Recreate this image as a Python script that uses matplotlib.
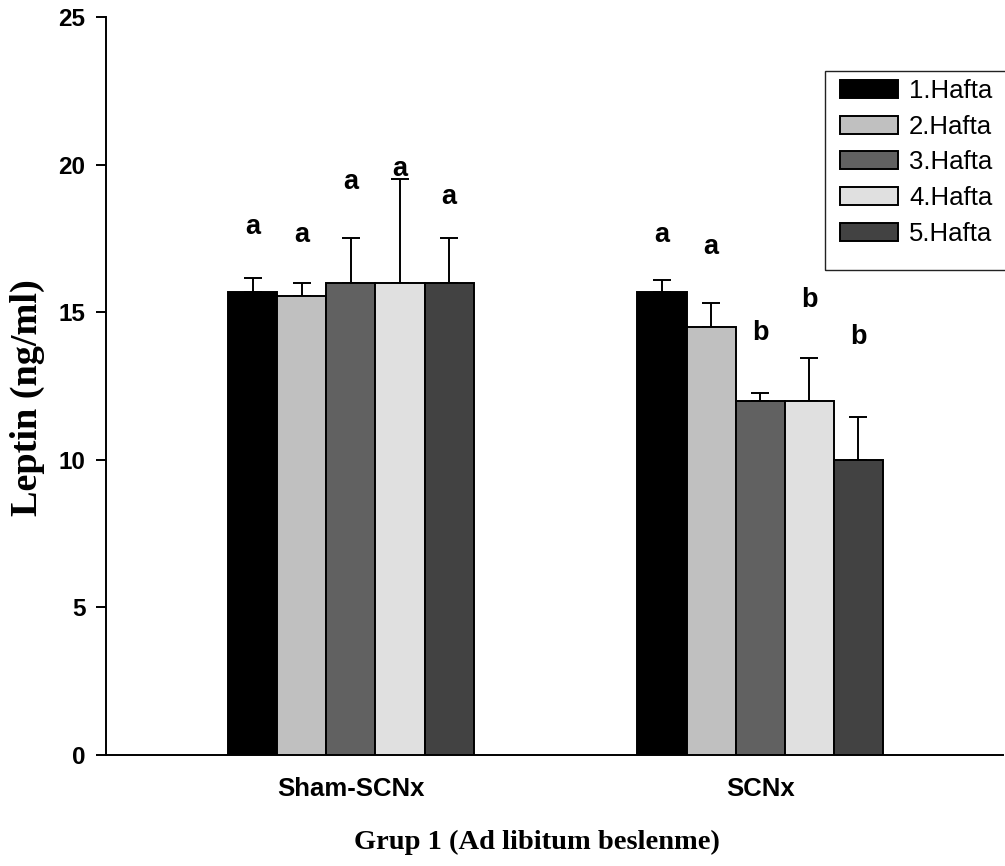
import matplotlib
matplotlib.use("Agg")
import matplotlib.pyplot as plt
from matplotlib.patches import Rectangle

plt.rcParams['font.family'] = ['Liberation Sans', 'DejaVu Sans']
SANS = ['Liberation Sans', 'DejaVu Sans']
SERIF = ['Liberation Serif', 'DejaVu Serif']

# Data
groups = ["Sham-SCNx", "SCNx"]
weeks = ["1.Hafta", "2.Hafta", "3.Hafta", "4.Hafta", "5.Hafta"]
sham_mean = [15.7, 15.55, 16.0, 16.0, 16.0]
sham_err = [0.45, 0.45, 1.5, 3.5, 1.5]
scnx_mean = [15.7, 14.5, 12.0, 12.0, 10.0]
scnx_err = [0.4, 0.8, 0.25, 1.45, 1.45]
sham_letters = ["a", "a", "a", "a", "a"]
scnx_letters = ["a", "a", "b", "b", "b"]
y_ticks = [0, 5, 10, 15, 20, 25]

# Styling / layout
colors = ["#000000", "#c0c0c0", "#616161", "#e0e0e0", "#424242"]
sham_letter_y = [17.9, 17.6, 19.4, 19.85, 18.9]
scnx_letter_y = [17.6, 17.2, 14.3, 15.4, 14.15]
bar_w = 0.12

fig = plt.figure(figsize=(10.05, 8.66), dpi=100)
ax = fig.add_axes([106 / 1005, 1 - 755 / 866, 1 - 106 / 1005 - 0.002, (755 - 17) / 866])

means = [sham_mean, scnx_mean]
errs = [sham_err, scnx_err]
letters = [sham_letters, scnx_letters]
letter_y = [sham_letter_y, scnx_letter_y]

handles = []
for i, wk in enumerate(weeks):
    xs = [g + (i - 2) * bar_w for g in range(len(groups))]
    hs = [means[g][i] for g in range(len(groups))]
    es = [errs[g][i] for g in range(len(groups))]
    b = ax.bar(xs, hs, width=bar_w, color=colors[i], edgecolor="black",
               linewidth=1.4, label=wk, zorder=3)
    handles.append(b)
    ax.errorbar(xs, hs, yerr=[[0] * len(es), es], fmt="none", ecolor="black",
                elinewidth=1.4, capsize=6.5, capthick=1.4, zorder=2)
    for g in range(len(groups)):
        ax.text(xs[g], letter_y[g][i], letters[g][i], ha="center", va="center",
                fontsize=19.5, fontweight="bold", family=SANS)

ax.set_xlim(-0.598, 1.593)
ax.set_ylim(0, 25)
ax.set_yticks(y_ticks)
ax.set_xticks(range(len(groups)))
ax.set_xticklabels(groups, fontsize=18.5, fontweight="bold", family=SANS)
ax.tick_params(axis="x", length=0, pad=15.5)
ax.tick_params(axis="y", length=7.2, width=1.4, pad=7.5)
for lbl in ax.get_yticklabels():
    lbl.set_fontweight("bold")
    lbl.set_fontsize(17.5)
for s in ["top", "right"]:
    ax.spines[s].set_visible(False)
for s in ["left", "bottom"]:
    ax.spines[s].set_linewidth(1.4)

ax.set_ylabel("Leptin (ng/ml)", family=SERIF, fontsize=27.5, fontweight="bold")
ax.yaxis.set_label_coords(-0.068, 0.4837)
ax.set_xlabel("Grup 1 (Ad libitum beslenme)", family=SERIF, fontsize=20.5, fontweight="bold")
ax.xaxis.set_label_coords(0.4805, -0.101)

# Legend box
fig.patches.append(Rectangle((825 / 1005, 1 - 270 / 866), 0.2, (270 - 71) / 866,
                             transform=fig.transFigure, fill=False,
                             edgecolor="#222222", linewidth=1.0))
fig.legend(handles=handles, labels=weeks, loc="upper left",
           bbox_to_anchor=(840 / 1005, 1 - 79 / 866), frameon=False,
           fontsize=18.5, handlelength=2.26, handleheight=0.7,
           handletextpad=0.43, labelspacing=0.456, borderpad=0, borderaxespad=0)

fig.savefig("out.png", dpi=100)
